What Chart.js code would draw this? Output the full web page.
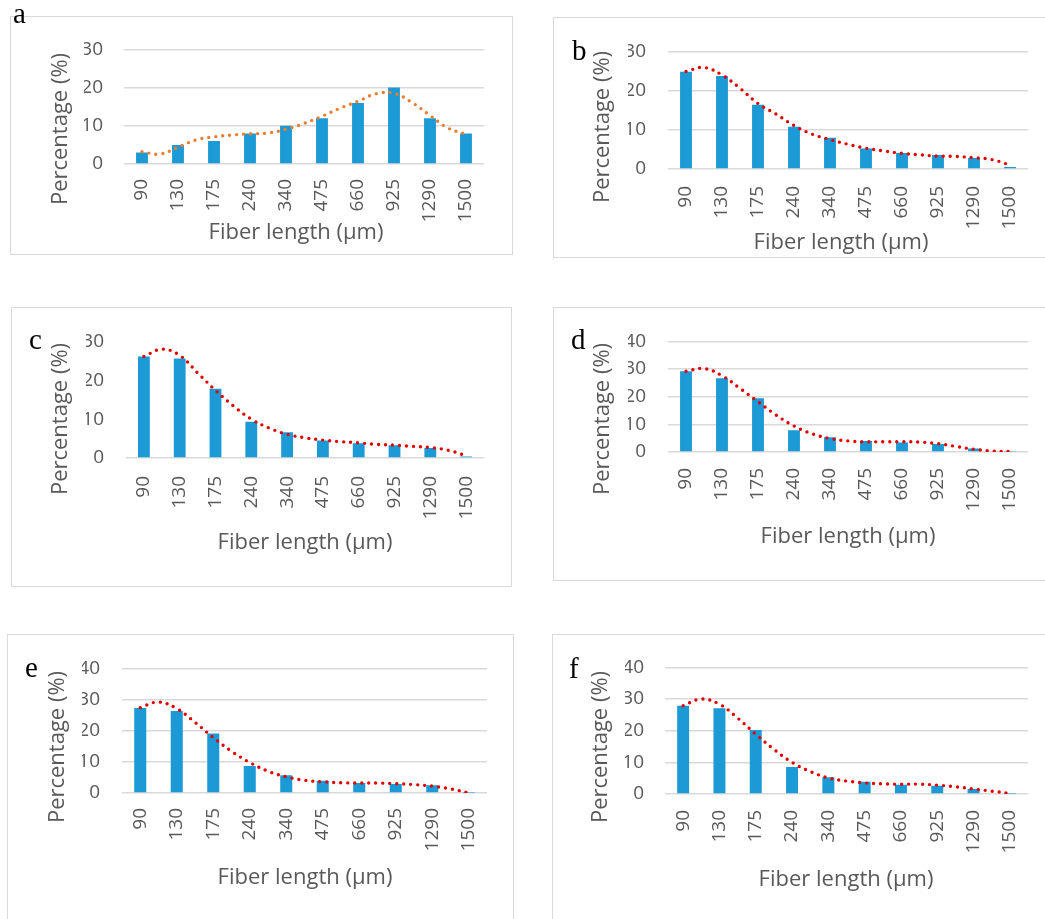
<!DOCTYPE html>
<html>
<head>
<meta charset="utf-8">
<script src="https://cdn.jsdelivr.net/npm/chart.js@4.4.1/dist/chart.umd.min.js"></script>
<style>
  body { margin: 0; background: #fff; width: 1045px; height: 919px; overflow: hidden; position: relative; }
  .box { position: absolute; border: 1.5px solid #d9d9d9; box-sizing: border-box; background: #fff; }
  .box canvas { position: absolute; left: 0; top: 0; }
  .letter { position: absolute; font-family: 'Liberation Serif', serif; font-size: 29px; color: #000; line-height: 1; }
</style>
</head>
<body>
<script>
// fiber length classes (µm)
const categories = ['90', '130', '175', '240', '340', '475', '660', '925', '1290', '1500'];

// bar heights (%) per panel
const aBars = [3, 5, 6, 8, 10, 12, 16, 20, 12, 8];
const bBars = [24.8, 23.7, 16.4, 10.8, 8.0, 5.2, 4.1, 3.6, 2.8, 0.5];
const cBars = [26.1, 25.6, 17.8, 9.3, 6.6, 4.5, 3.8, 3.3, 2.6, 0.4];
const dBars = [29.2, 26.7, 19.4, 7.9, 5.3, 4.0, 3.4, 2.9, 1.3, 0.2];
const eBars = [27.3, 26.3, 19.1, 8.7, 5.7, 3.9, 3.2, 2.9, 2.5, 0.1];
const fBars = [27.9, 27.1, 20.2, 8.5, 5.3, 3.9, 2.9, 2.6, 1.6, 0.1];

// trend line, at these category positions
const trendPos = [0, 0.5, 1, 1.5, 2, 2.5, 3, 3.5, 4, 4.5, 5, 5.5, 6, 6.5, 7, 7.5, 8, 8.5, 9];
const aTrend = [3.2, 2.6, 4.4, 6.3, 7.1, 7.6, 7.9, 8.1, 9.1, 10.6, 12.5, 14.6, 16.4, 18.4, 18.5, 16.1, 12.7, 9.4, 7.8];
const bTrend = [24.9, 25.9, 24.0, 20.6, 16.7, 14.0, 11.1, 8.9, 7.5, 6.3, 5.3, 4.6, 4.0, 3.6, 3.3, 3.2, 2.9, 2.4, 1.0];
const cTrend = [26.1, 28.0, 26.4, 21.9, 17.4, 13.4, 10.0, 7.7, 6.1, 5.2, 4.6, 4.2, 3.9, 3.5, 3.3, 3.0, 2.7, 2.0, 0.6];
const dTrend = [29.2, 30.2, 27.6, 23.0, 18.2, 13.4, 9.4, 6.6, 4.9, 4.0, 3.7, 3.7, 3.7, 3.6, 3.0, 2.0, 1.0, 0.3, 0.2];
const eTrend = [27.4, 29.2, 27.1, 22.7, 17.8, 13.4, 9.8, 7.0, 5.2, 4.1, 3.6, 3.3, 3.2, 3.2, 3.0, 2.7, 2.2, 1.3, 0.1];
const fTrend = [27.9, 30.0, 28.4, 24.0, 18.9, 14.1, 10.0, 7.1, 5.1, 4.1, 3.5, 3.2, 3.1, 3.1, 2.8, 2.3, 1.6, 0.9, 0.2];

const xTitle = 'Fiber length (µm)';
const yTitle = 'Percentage (%)';

const BAR_COLOR = '#1c9ad6';
const GRID_COLOR = '#d9d9d9';
const TEXT_COLOR = '#595959';
const FONT = "'Open Sans', sans-serif";

// layout: box [x, y, w, h], plot area [left, top, right, bottom], letter pos, title centers
const panels = [
  { letter: 'a', bars: aBars, trend: aTrend, yMax: 30, trendColor: '#ed7d31', allGrid: true,
    box: [10, 16, 503, 239], area: [123, 44, 483, 163], lpos: [13, -1], yt: [60, 128], xt: [295, 232], tickGap: 21, xGap: 15 },
  { letter: 'b', bars: bBars, trend: bTrend, yMax: 30, trendColor: '#e00000', allGrid: true,
    box: [553, 17, 500, 241], area: [667, 44, 1027, 168], lpos: [572, 36], yt: [602, 126], xt: [840, 242], tickGap: 22, xGap: 17 },
  { letter: 'c', bars: cBars, trend: cTrend, yMax: 30, trendColor: '#e00000', allGrid: false,
    box: [11, 307, 501, 280], area: [125, 334, 483, 457], lpos: [29, 325], yt: [60, 418], xt: [304, 542], tickGap: 22, xGap: 18 },
  { letter: 'd', bars: dBars, trend: dTrend, yMax: 40, trendColor: '#e00000', allGrid: true,
    box: [553, 307, 500, 274], area: [667, 334, 1027, 451], lpos: [571, 325], yt: [602, 418], xt: [847, 536], tickGap: 22, xGap: 16 },
  { letter: 'e', bars: eBars, trend: eTrend, yMax: 40, trendColor: '#e00000', allGrid: true,
    box: [7, 634, 507, 300], area: [121, 662, 486, 792], lpos: [25, 653], yt: [57, 746], xt: [304, 877], tickGap: 22, xGap: 15 },
  { letter: 'f', bars: fBars, trend: fTrend, yMax: 40, trendColor: '#e00000', allGrid: true,
    box: [552, 634, 500, 300], area: [664, 662, 1027, 793], lpos: [569, 654], yt: [600, 746], xt: [845, 879], tickGap: 21, xGap: 16 }
];

// draws the axis titles at the spots measured on the picture
const titlePlugin = {
  id: 'panelTitles',
  afterDraw(chart, args, opts) {
    const ctx = chart.ctx;
    ctx.save();
    ctx.fillStyle = TEXT_COLOR;
    ctx.font = '22px ' + FONT;
    ctx.textAlign = 'center';
    ctx.textBaseline = 'middle';
    ctx.fillText(xTitle, opts.xt[0], opts.xt[1]);
    ctx.translate(opts.yt[0], opts.yt[1]);
    ctx.rotate(-Math.PI / 2);
    ctx.fillText(yTitle, 0, 0);
    ctx.restore();
  }
};

panels.forEach(p => {
  const [bx, by, bw, bh] = p.box;
  const [al, at, ar, ab] = p.area;
  const box = document.createElement('div');
  box.className = 'box';
  box.style.left = bx + 'px';
  box.style.top = by + 'px';
  box.style.width = bw + 'px';
  box.style.height = bh + 'px';
  const canvas = document.createElement('canvas');
  canvas.width = bw;
  canvas.height = bh;
  box.appendChild(canvas);
  document.body.appendChild(box);

  const lab = document.createElement('div');
  lab.className = 'letter';
  lab.textContent = p.letter;
  lab.style.left = p.lpos[0] + 'px';
  lab.style.top = p.lpos[1] + 'px';
  document.body.appendChild(lab);

  const yAxisW = 40;
  const xAxisH = 60;
  const padLeft = al - bx - yAxisW;
  const padTop = at - by;
  const padRight = bx + bw - ar;
  const padBottom = by + bh - ab - xAxisH;

  new Chart(canvas, {
    type: 'bar',
    data: {
      labels: categories,
      datasets: [{
        type: 'line',
        data: trendPos.map((x, i) => ({ x: x, y: p.trend[i] })),
        xAxisID: 'xt',
        borderColor: p.trendColor,
        borderWidth: 3.4,
        borderDash: [0, 7],
        borderCapStyle: 'round',
        pointRadius: 0,
        tension: 0.4,
        fill: false,
        order: 0
      }, {
        data: p.bars,
        backgroundColor: BAR_COLOR,
        categoryPercentage: 1,
        barPercentage: 0.33,
        grouped: false,
        order: 1
      }]
    },
    options: {
      responsive: false,
      animation: false,
      layout: { padding: { left: padLeft, top: padTop, right: padRight, bottom: padBottom } },
      plugins: {
        legend: { display: false },
        tooltip: { enabled: false },
        panelTitles: { xt: [p.xt[0] - bx, p.xt[1] - by], yt: [p.yt[0] - bx, p.yt[1] - by] }
      },
      scales: {
        x: {
          grid: { display: false, drawTicks: false },
          border: { display: false },
          ticks: {
            color: TEXT_COLOR, font: { family: FONT, size: 19 },
            minRotation: 90, maxRotation: 90, autoSkip: false, padding: p.xGap
          },
          afterFit(scale) { scale.height = xAxisH; }
        },
        xt: { type: 'linear', display: false, offset: false, min: -0.5, max: 9.5 },
        y: {
          min: 0, max: p.yMax,
          ticks: { stepSize: 10, color: TEXT_COLOR, font: { family: FONT, size: 19 }, padding: p.tickGap },
          grid: {
            drawTicks: false, lineWidth: 1.5,
            color: c => (p.allGrid || c.tick.value === 0) ? GRID_COLOR : 'rgba(0,0,0,0)'
          },
          border: { display: false },
          afterFit(scale) { scale.width = yAxisW; }
        }
      }
    },
    plugins: [titlePlugin]
  });
});
</script>
</body>
</html>
